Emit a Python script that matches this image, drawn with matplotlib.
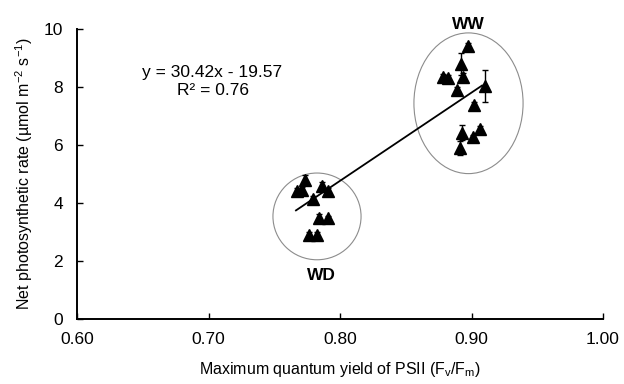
import matplotlib
matplotlib.use("Agg")
import matplotlib.pyplot as plt
from matplotlib.patches import Ellipse
import numpy as np

plt.rcParams['font.family'] = ['Liberation Sans', 'DejaVu Sans']
plt.rcParams['mathtext.fontset'] = 'custom'
plt.rcParams['mathtext.rm'] = 'Liberation Sans'

# well-watered (WW) points: Fv/Fm, Pn, error
ww_fvfm = [0.897, 0.892, 0.878, 0.882, 0.8935, 0.889, 0.910, 0.902, 0.9065, 0.901, 0.893, 0.891]
ww_pn = [9.42, 8.80, 8.35, 8.30, 8.35, 7.90, 8.04, 7.38, 6.56, 6.26, 6.43, 5.90]
ww_err = [0.10, 0.38, 0.10, 0.10, 0.15, 0.10, 0.55, 0.10, 0.10, 0.10, 0.27, 0.25]

# water-deficit (WD) points
wd_fvfm = [0.7734, 0.767, 0.771, 0.786, 0.791, 0.7795, 0.784, 0.791, 0.7765, 0.7825]
wd_pn = [4.78, 4.43, 4.46, 4.60, 4.43, 4.15, 3.47, 3.47, 2.89, 2.89]
wd_err = [0.17, 0.10, 0.10, 0.14, 0.10, 0.10, 0.15, 0.10, 0.10, 0.10]

slope, intercept = 30.42, -19.57
fit_x = [0.7665, 0.908]

x_ticks = [0.60, 0.70, 0.80, 0.90, 1.00]
y_ticks = [0, 2, 4, 6, 8, 10]

fig = plt.figure(figsize=(6.24, 3.84), dpi=100)
ax = fig.add_axes([0.1234, 0.169, 0.843, 0.7555])

for xs, ys, es in [(wd_fvfm, wd_pn, wd_err), (ww_fvfm, ww_pn, ww_err)]:
    ax.errorbar(xs, ys, yerr=es, fmt='^', color='black', ms=9, elinewidth=1,
                capsize=2.5, capthick=1, zorder=3)

fx = np.array(fit_x)
ax.plot(fx, slope * fx + intercept, color='black', lw=1.3, zorder=4)

ax.add_patch(Ellipse((0.7825, 3.54), 0.067, 2.99, fill=False, ec='#8c8c8c', lw=0.8))
ax.add_patch(Ellipse((0.8977, 7.44), 0.083, 4.85, fill=False, ec='#8c8c8c', lw=0.8))

ax.text(0.8973, 10.17, 'WW', ha='center', va='center', fontsize=12.5, fontweight='bold', clip_on=False)
ax.text(0.7856, 1.51, 'WD', ha='center', va='center', fontsize=12.5, fontweight='bold')

ax.text(0.7025, 8.49, 'y = 30.42x - 19.57', ha='center', va='center', fontsize=12.5)
ax.text(0.7035, 7.87, 'R² = 0.76', ha='center', va='center', fontsize=12.5)

ax.set_xlim(0.60, 1.00)
ax.set_ylim(0, 10)
ax.set_xticks(x_ticks)
ax.set_xticklabels([f'{t:.2f}' for t in x_ticks])
ax.set_yticks(y_ticks)
ax.tick_params(direction='in', length=4, width=1, labelsize=12.5)
ax.tick_params(axis='x', pad=9)
ax.tick_params(axis='y', pad=10)
for s in ['top', 'right']:
    ax.spines[s].set_visible(False)
for s in ['left', 'bottom']:
    ax.spines[s].set_linewidth(1.4)

ax.set_xlabel('Maximum quantum yield of PSII (F$_\\mathregular{v}$/F$_\\mathregular{m}$)', fontsize=11.5, labelpad=10)
ax.set_ylabel('Net photosynthetic rate (\u00b5mol m$^\\mathregular{-2}$ s$^\\mathregular{-1}$)', fontsize=11.5, labelpad=6)

fig.savefig('out.png', dpi=100)
